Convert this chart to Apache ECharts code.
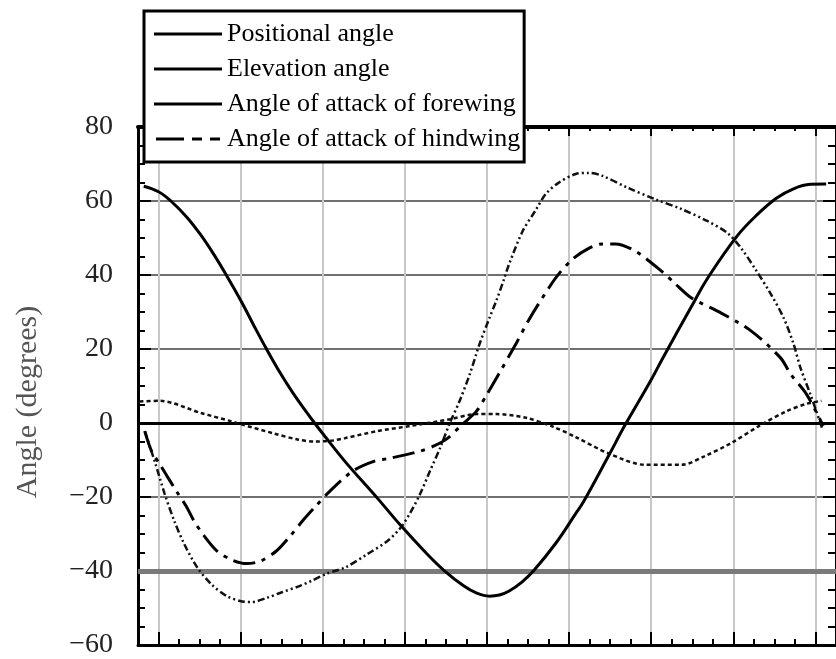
<!DOCTYPE html>
<html>
<head>
<meta charset="utf-8">
<script src="https://cdn.jsdelivr.net/npm/echarts@6/dist/echarts.min.js"></script>
<style>
html,body{margin:0;padding:0;background:#fff;}
#chart{width:836px;height:659px;}
</style>
</head>
<body>
<div id="chart"></div>
<script>
// Series names
const seriesNames = ['Positional angle', 'Elevation angle', 'Angle of attack of forewing', 'Angle of attack of hindwing'];

// x in minor-tick units (0 = left axis, major grid every 4 starting at 1)
const positionalX = [0.28,1.00,1.60,2.40,3.10,3.70,4.30,5.00,5.63,6.26,6.93,7.56,8.20,8.60,9.16,10.10,11.66,12.78,14.08,14.90,15.86,16.50,17.12,17.60,18.08,18.70,19.29,20.35,21.32,21.70,22.91,23.73,24.93,25.56,27.11,27.73,29.18,30.20,31.11,31.93,32.75,33.52];
const positionalY = [64,62.5,60,55.5,50.5,45.5,40,33.2,26.5,20,13.5,8,3,0,-4,-10.5,-20.3,-27.6,-35.4,-39.8,-44,-46,-46.8,-46.5,-45.4,-43,-39.8,-32.5,-24.5,-21.3,-9,-0.5,11,17.5,33,39,50.5,56.5,60.8,63.3,64.5,64.6];

const elevX = [0.08,1.05,3.07,4.52,5.00,6.60,7.80,8.60,9.50,10.07,11.66,13.26,15.19,16.49,17.45,18.90,20.21,21.32,22.91,24.70,26.48,27.59,28.90,30.34,31.60,32.57,33.29];
const elevY = [5.8,6,2.7,0.5,-0.3,-2.8,-4.5,-5,-4.7,-4.1,-2.2,-0.8,1,2.4,2.4,1.4,-1,-3.8,-8.2,-11.3,-11.3,-9,-5.4,-0.5,3.2,5.2,6];

const foreX = [0.33,0.81,1.29,1.77,2.25,2.88,3.56,4.33,5.15,5.54,6.26,6.98,7.90,8.43,9.16,9.59,10.12,11.18,12.15,12.78,13.26,13.74,14.22,14.71,15.19,15.67,16.16,16.64,17.12,17.45,17.80,18.08,18.74,19.37,19.86,20.48,21.32,21.94,22.62,23.88,25.18,26.48,27.73,28.70,29.37,30.14,30.82,31.45,31.93,32.27,32.75,33.04,33.33];
const foreY = [-2.2,-10.3,-19,-26.5,-32.7,-39,-43.5,-46.8,-48.3,-48.4,-47.3,-45.8,-44,-42.7,-40.8,-40,-39,-35.4,-31.9,-28.4,-24.3,-19.2,-13,-6.8,0,6,13.2,21.4,28.4,33,38.4,43,51.9,57.5,61.9,64.9,67.3,67.6,66.8,63.5,60.5,57.8,54.6,51.4,47.3,41,34.9,28.4,21.4,14.9,7.8,3.2,-1.5];

const hindX = [0.33,0.66,1.05,1.43,1.87,2.35,2.73,3.22,3.85,4.57,5.29,5.97,6.74,7.42,8.04,8.67,9.35,10.46,11.52,12.29,13.74,14.42,15.04,15.77,16.49,16.97,17.60,18.42,19.05,20.01,20.50,21.17,21.89,22.62,23.25,24.21,25.51,26.14,26.96,28.41,29.86,31.30,31.79,32.56,33.38];
const hindY = [-2.2,-7.6,-11,-14.5,-18.4,-22.5,-26.5,-30.5,-34.6,-37,-38,-37.3,-34.6,-30.5,-26.3,-22.4,-18.4,-13,-10.3,-9.5,-7.6,-6.2,-4.3,-0.5,3.2,7.5,13.5,21.5,28,36.5,40.3,44.3,47,48.4,48.4,46.5,41,37.8,33.8,29.7,24.9,17.6,13.2,7.8,-0.8];

// Axis settings
const yMin = -60, yMax = 80, yStep = 20;
const xMin = 0, xMax = 34;
const xCategories = Array.from({length: xMax - xMin + 1}, (_, i) => String(i + xMin));
const yAxisTitle = 'Angle (degrees)';

const pairs = (xs, ys) => xs.map((x, i) => [x, ys[i]]);
const isMajor = (i) => i % 4 === 1;
const serif = 'Liberation Serif';

// legend glyphs: solid bar, and long dash + two short dashes
const solidIcon = 'path://M0,0H68V3H0Z';
const dashIcon = 'path://M0,0H28V3H0Z M36,0H46V3H36Z M54,0H64V3H54Z';

const chart = echarts.init(document.getElementById('chart'), null, {renderer: 'canvas'});

const option = {
  animation: false,
  backgroundColor: '#ffffff',
  color: ['#000', '#000', '#000', '#000'],
  grid: {left: 138, top: 127, right: -7, bottom: 14, containLabel: false},
  legend: {
    orient: 'vertical',
    left: 144, top: 11,
    selectedMode: false,
    backgroundColor: '#ffffff',
    borderColor: '#000000',
    borderWidth: 3,
    padding: [10, 4, 10, 10],
    itemGap: 9,
    itemWidth: 68,
    itemHeight: 3,
    textStyle: {fontFamily: serif, fontSize: 26, color: '#000'},
    data: [
      {name: seriesNames[0], icon: solidIcon, itemStyle: {color: '#000'}},
      {name: seriesNames[1], icon: solidIcon, itemStyle: {color: '#000'}},
      {name: seriesNames[2], icon: solidIcon, itemStyle: {color: '#000'}},
      {name: seriesNames[3], icon: dashIcon, itemStyle: {color: '#000'}}
    ]
  },
  xAxis: [
    {
      type: 'value', min: xMin, max: xMax, interval: 1, position: 'bottom',
      axisLine: {onZero: false, lineStyle: {color: '#000', width: 3}},
      axisTick: {inside: true, length: 6, lineStyle: {color: '#000', width: 2}},
      axisLabel: {show: false}, splitLine: {show: false}
    },
    {
      type: 'category', data: xCategories, boundaryGap: false, position: 'bottom',
      axisLine: {show: false, onZero: false},
      axisTick: {inside: true, length: 13, interval: isMajor, lineStyle: {color: '#000', width: 2}},
      axisLabel: {show: false},
      splitLine: {show: true, interval: isMajor, lineStyle: {color: '#c8c8c8', width: 2}}
    },
    {
      type: 'value', min: xMin, max: xMax, interval: 1, position: 'top',
      axisLine: {onZero: false, lineStyle: {color: '#000', width: 4}},
      axisTick: {inside: true, length: 4, lineStyle: {color: '#000', width: 2}},
      axisLabel: {show: false}, splitLine: {show: false}
    },
    {
      type: 'category', data: xCategories, boundaryGap: false, position: 'top',
      axisLine: {show: false, onZero: false},
      axisTick: {inside: true, length: 9, interval: isMajor, lineStyle: {color: '#000', width: 2}},
      axisLabel: {show: false}, splitLine: {show: false}
    }
  ],
  yAxis: [
    {
      type: 'value', min: yMin, max: yMax, interval: yStep, position: 'left',
      name: yAxisTitle, nameLocation: 'middle', nameGap: 95,
      nameTextStyle: {fontFamily: serif, fontSize: 30, color: '#555', padding: [0, 32, 0, 0]},
      axisLine: {onZero: false, lineStyle: {color: '#000', width: 3}},
      axisTick: {inside: true, length: 13, lineStyle: {color: '#000', width: 2}},
      minorTick: {show: true, splitNumber: 4, length: 7, lineStyle: {color: '#000', width: 2}},
      axisLabel: {
        margin: 25, fontFamily: serif, fontSize: 28, color: '#222',
        formatter: (v) => (v < 0 ? '\u2212' + Math.abs(v) : String(v))
      },
      splitLine: {show: true, lineStyle: {color: '#707070', width: 2}}
    },
    {
      type: 'value', min: yMin, max: yMax, interval: yStep, position: 'right',
      axisLine: {onZero: false, lineStyle: {color: '#000', width: 3}},
      axisTick: {inside: true, length: 13, lineStyle: {color: '#000', width: 2}},
      minorTick: {show: true, splitNumber: 4, length: 8, lineStyle: {color: '#000', width: 2}},
      axisLabel: {show: false}, splitLine: {show: false}
    }
  ],
  series: [
    {
      name: seriesNames[0], type: 'line', xAxisIndex: 0, yAxisIndex: 0,
      data: pairs(positionalX, positionalY), symbol: 'none', smooth: 0.4, z: 5,
      itemStyle: {color: '#000'},
      lineStyle: {color: '#000', width: 3, type: 'solid'},
      markLine: {
        silent: true, symbol: ['none', 'none'], label: {show: false}, z: 3,
        data: [
          {yAxis: 0, lineStyle: {color: '#000', width: 3, type: 'solid'}},
          {yAxis: -40, lineStyle: {color: '#7a7a7a', width: 5, type: 'solid'}}
        ]
      }
    },
    {
      name: seriesNames[1], type: 'line', xAxisIndex: 0, yAxisIndex: 0,
      data: pairs(elevX, elevY), symbol: 'none', smooth: 0.3, z: 4,
      itemStyle: {color: '#000'},
      lineStyle: {color: '#111', width: 2.5, type: [4, 3]}
    },
    {
      name: seriesNames[2], type: 'line', xAxisIndex: 0, yAxisIndex: 0,
      data: pairs(foreX, foreY), symbol: 'none', smooth: 0.3, z: 4,
      itemStyle: {color: '#000'},
      lineStyle: {color: '#111', width: 2.5, type: [7, 3, 2, 3, 2, 3]}
    },
    {
      name: seriesNames[3], type: 'line', xAxisIndex: 0, yAxisIndex: 0,
      data: pairs(hindX, hindY), symbol: 'none', smooth: 0.3, z: 4,
      itemStyle: {color: '#000'},
      lineStyle: {color: '#000', width: 3, type: [22, 7, 4, 7]}
    }
  ]
};

chart.setOption(option);
</script>
</body>
</html>
